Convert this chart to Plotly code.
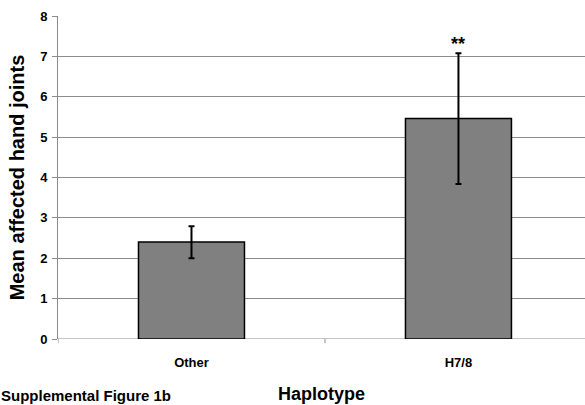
import plotly.graph_objects as go

categories = ["Other", "H7/8"]
means = [2.4, 5.46]
err_plus = [0.39, 1.62]
err_minus = [0.4, 1.62]
y_ticks = [0, 1, 2, 3, 4, 5, 6, 7, 8]
significance = ["", "**"]
upper = [m + e for m, e in zip(means, err_plus)]

FONT = "Liberation Sans, Arial"

fig = go.Figure()
fig.add_trace(go.Bar(
    x=[0, 1], y=means, width=0.397,
    marker=dict(color="#808080", line=dict(color="#000000", width=1.5)),
    error_y=dict(type="data", array=err_plus, arrayminus=err_minus,
                 color="#000000", thickness=2, width=3, visible=True),
    showlegend=False, hoverinfo="skip",
))

for i, s in enumerate(significance):
    if s:
        fig.add_annotation(x=i, y=upper[i], text="<b>" + s + "</b>", showarrow=False,
                           yanchor="bottom", yshift=-3,
                           font=dict(family=FONT, size=18, color="#000"))

fig.add_annotation(x=0, y=0, xref="paper", yref="paper", xanchor="left", yanchor="top",
                   xshift=-58, yshift=-47, text="<b>Supplemental Figure 1b</b>", showarrow=False,
                   borderpad=0,
                   font=dict(family=FONT, size=15, color="#000"))

fig.update_layout(
    width=585, height=405,
    margin=dict(l=58, r=0, t=16, b=66),
    paper_bgcolor="white", plot_bgcolor="white",
    font=dict(family=FONT, color="#000"),
    xaxis=dict(
        range=[-0.5, 1.474], tickmode="array", tickvals=[0, 1],
        ticktext=["<b>" + c + "</b>" for c in categories],
        showgrid=False, zeroline=False, showline=False,
        ticks="", tickfont=dict(size=13), ticklabelstandoff=14,
        automargin=False,
        title=dict(text="<b>Haplotype</b>", font=dict(size=18), standoff=18),
    ),
    yaxis=dict(
        range=[0, 8], tickvals=y_ticks,
        ticktext=["<b>%d</b>" % t for t in y_ticks],
        showgrid=True, gridcolor="#8c8c8c", gridwidth=1,
        zeroline=False, showline=True, linecolor="#8c8c8c", linewidth=1,
        ticks="outside", ticklen=5, tickcolor="#8c8c8c", tickfont=dict(size=13),
        ticklabelstandoff=2, automargin=False,
        title=dict(text="<b>Mean affected hand joints</b>", font=dict(size=20), standoff=10),
    ),
)

fig.add_shape(type="line", xref="x", yref="y", x0=-0.5, x1=1.474, y0=0, y1=0,
              line=dict(color="#8c8c8c", width=1), layer="below")
for b in [-0.5, 0.5]:
    fig.add_shape(type="line", xref="x", yref="paper", x0=b, x1=b, y0=0, y1=-0.013,
                  line=dict(color="#8c8c8c", width=1))

fig.write_html("out.html", config={"displayModeBar": False},
               post_script="document.body.style.margin='0';")
